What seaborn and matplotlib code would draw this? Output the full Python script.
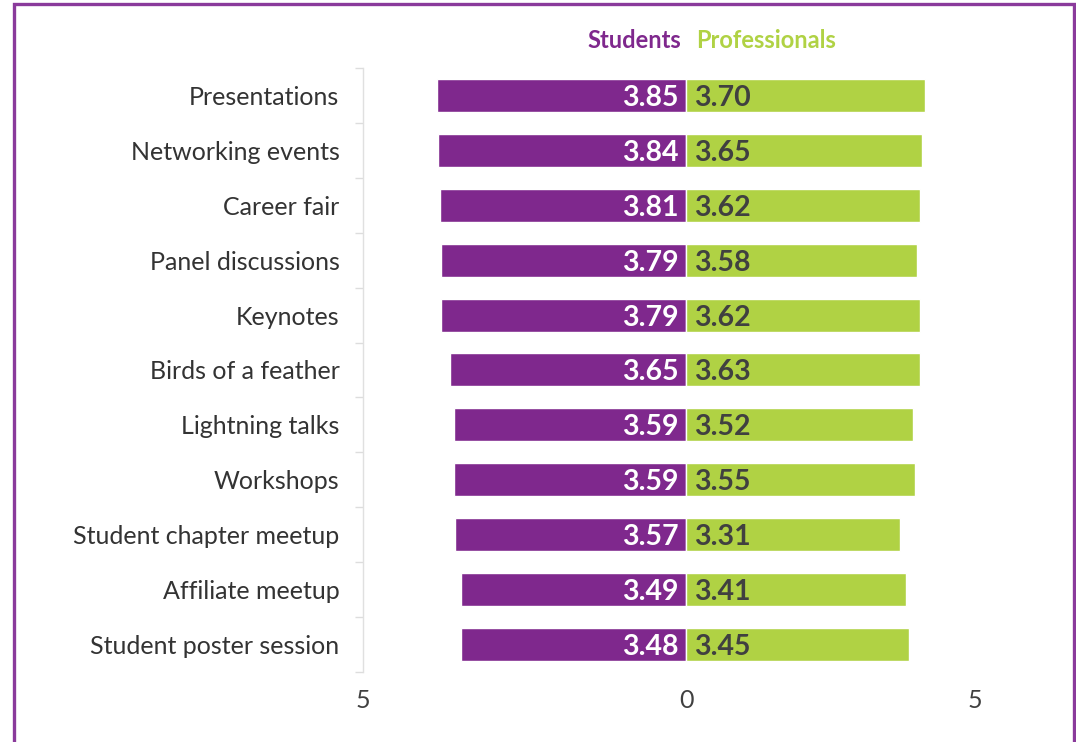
import numpy as np
import pandas as pd
import matplotlib
matplotlib.use("Agg")
import matplotlib.pyplot as plt
from matplotlib.patches import Rectangle
import seaborn as sns

# Data
categories = ["Presentations", "Networking events", "Career fair", "Panel discussions",
              "Keynotes", "Birds of a feather", "Lightning talks", "Workshops",
              "Student chapter meetup", "Affiliate meetup", "Student poster session"]
students = [3.85, 3.84, 3.81, 3.79, 3.79, 3.65, 3.59, 3.59, 3.57, 3.49, 3.48]
professionals = [3.70, 3.65, 3.62, 3.58, 3.62, 3.63, 3.52, 3.55, 3.31, 3.41, 3.45]

purple = "#7F288D"
green = "#B0D244"
dark = "#404040"

df = pd.DataFrame({"category": categories,
                   "students": students,
                   "professionals": professionals})
df["students_neg"] = -df["students"]

sns.set_style("white")
plt.rcParams["font.family"] = ["Lato", "DejaVu Sans"]

fig = plt.figure(figsize=(10.76, 7.42), dpi=100)
ax = fig.add_axes([0.3374, 0.0937, 0.6003, 0.8153])

sns.barplot(data=df, x="students_neg", y="category", color=purple, width=0.6,
            orient="h", ax=ax, saturation=1)
sns.barplot(data=df, x="professionals", y="category", color=green, width=0.6,
            orient="h", ax=ax, saturation=1)

# value labels next to zero line
for i, (s, p) in enumerate(zip(students, professionals)):
    ax.text(-0.12, i, f"{s:.2f}", ha="right", va="center_baseline", color="white",
            fontsize=20.5, fontweight="bold")
    ax.text(0.12, i, f"{p:.2f}", ha="left", va="center_baseline", color=dark,
            fontsize=20.5, fontweight="bold")

ax.set_xlim(-5, 5)
ax.set_ylim(len(categories) - 0.5, -0.5)
ax.set_xlabel("")
ax.set_ylabel("")

ax.set_xticks([-5, 0, 4.47])
ax.set_xticklabels(["5", "0", "5"], fontsize=18, color=dark)
ax.tick_params(axis="x", length=0, pad=12)

ax.set_yticks(range(len(categories)))
ax.set_yticklabels(categories, fontsize=18, color="#333333")
ax.set_yticks(np.arange(-0.5, len(categories), 1), minor=True)
ax.tick_params(axis="y", which="major", left=False, length=0, pad=17)
ax.tick_params(axis="y", which="minor", left=True, length=6, color="#DDDDDD", width=1)

for side in ["top", "right", "bottom"]:
    ax.spines[side].set_visible(False)
ax.spines["left"].set_color("#E0E0E0")
ax.spines["left"].set_linewidth(1)

# series headers
ax.text(-0.08, -1.0, "Students", ha="right", va="center", color=purple,
        fontsize=17, fontweight="bold")
ax.text(0.16, -1.0, "Professionals", ha="left", va="center", color=green,
        fontsize=17, fontweight="bold")

# outer purple frame
fig.patches.append(Rectangle((14 / 1076, -0.02), 1060 / 1076, 1.0146,
                             transform=fig.transFigure, fill=False,
                             edgecolor="#8A3A9B", linewidth=2.4))

fig.savefig("out.png", dpi=100)
